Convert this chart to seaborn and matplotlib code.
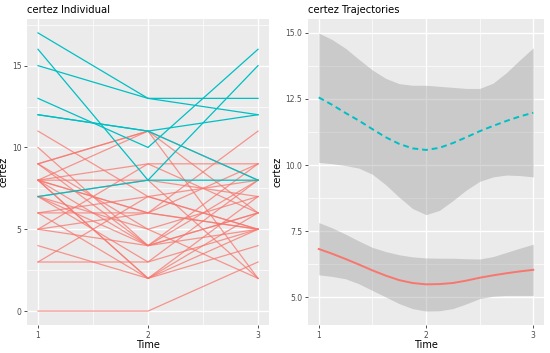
import numpy as np
import pandas as pd
import matplotlib
matplotlib.use("Agg")
import matplotlib.pyplot as plt
import seaborn as sns

# individual trajectories: certez at Time 1, 2, 3
red_t1 = [11, 10, 9, 9, 9, 8, 8, 8, 8, 7, 7, 7, 6, 6, 6, 5, 5, 5, 4, 3, 3, 0, 8, 8, 8, 7, 9, 8]
red_t2 = [7, 4, 11, 11, 4, 11, 9, 2, 6, 4, 8, 5, 6, 7, 2, 9, 6, 4, 2, 7, 3, 0, 6, 2, 4, 3, 5, 8]
red_t3 = [5, 8, 2, 6, 9, 8, 9, 7, 5, 6, 2, 7, 9, 5, 4, 6, 5, 5, 6, 8, 5, 3, 11, 5, 6, 8, 2, 7]
cyan_t1 = [17, 16, 15, 13, 12, 12, 7]
cyan_t2 = [13, 8, 13, 10, 11, 11, 8]
cyan_t3 = [13, 15, 12, 16, 12, 8, 8]

# smoothed trajectories
traj_time = [1, 1.125, 1.25, 1.375, 1.5, 1.625, 1.75, 1.875, 2,
             2.125, 2.25, 2.375, 2.5, 2.625, 2.75, 2.875, 3]
cyan_fit = [12.56, 12.28, 11.97, 11.68, 11.36, 11.05, 10.8, 10.63, 10.57,
            10.65, 10.83, 11.05, 11.28, 11.48, 11.67, 11.84, 11.98]
cyan_hi = [15.0, 14.75, 14.42, 14.0, 13.6, 13.28, 13.08, 13.02, 13.02,
           12.98, 12.94, 12.9, 12.9, 13.1, 13.5, 13.98, 14.44]
cyan_lo = [10.1, 10.05, 9.98, 9.88, 9.65, 9.25, 8.78, 8.35, 8.12,
           8.28, 8.65, 9.05, 9.38, 9.55, 9.62, 9.6, 9.55]
red_fit = [6.82, 6.64, 6.44, 6.23, 6.01, 5.81, 5.64, 5.53, 5.48,
           5.49, 5.53, 5.62, 5.73, 5.82, 5.9, 5.97, 6.03]
red_hi = [7.82, 7.62, 7.38, 7.12, 6.88, 6.72, 6.6, 6.52, 6.48,
          6.47, 6.47, 6.45, 6.44, 6.53, 6.69, 6.85, 7.0]
red_lo = [5.84, 5.78, 5.69, 5.5, 5.25, 5.0, 4.75, 4.56, 4.47,
          4.48, 4.56, 4.74, 4.94, 5.03, 5.06, 5.06, 5.06]

RED = "#F8766D"
CYAN = "#00BFC4"


def long_df(t1, t2, t3, group, start):
    rows = []
    for i, vals in enumerate(zip(t1, t2, t3)):
        for t, v in zip([1, 2, 3], vals):
            rows.append({"id": start + i, "Time": t, "certez": v, "group": group})
    return rows


ind = pd.DataFrame(long_df(red_t1, red_t2, red_t3, "1", 0) +
                   long_df(cyan_t1, cyan_t2, cyan_t3, "2", 100))

traj = pd.DataFrame({
    "Time": traj_time * 2,
    "certez": red_fit + cyan_fit,
    "group": ["1"] * len(traj_time) + ["2"] * len(traj_time),
})


def gg_axes(ax, yticks, yminor, ylab_x):
    ax.set_facecolor("#EBEBEB")
    for s in ax.spines.values():
        s.set_visible(False)
    ax.set_xticks([1, 2, 3])
    ax.set_xticks([1.5, 2.5], minor=True)
    ax.set_yticks(yticks)
    ax.set_yticks(yminor, minor=True)
    ax.grid(which="major", color="white", linewidth=1.0)
    ax.grid(which="minor", color="white", linewidth=0.5)
    ax.set_axisbelow(True)
    ax.tick_params(which="major", length=2.5, width=0.6, color="#333333",
                   labelsize=5.5, labelcolor="#4D4D4D", pad=1.5)
    ax.tick_params(which="minor", length=0)
    ax.set_xlim(0.9, 3.1)
    ax.set_xlabel("Time", fontsize=7)
    ax.set_ylabel("certez", fontsize=7)
    ax.xaxis.set_label_coords(0.5, -0.05)
    ax.yaxis.set_label_coords(ylab_x, 0.5)


fig = plt.figure(figsize=(5.5, 3.53), dpi=100)
ax1 = fig.add_axes([27 / 550, 1 - 325 / 353, 242 / 550, 306 / 353])
ax2 = fig.add_axes([308 / 550, 1 - 325 / 353, 236 / 550, 306 / 353])

sns.lineplot(data=ind[ind["group"] == "1"], x="Time", y="certez", units="id",
             estimator=None, color=RED, alpha=0.75, linewidth=0.9, ax=ax1)
sns.lineplot(data=ind[ind["group"] == "2"], x="Time", y="certez", units="id",
             estimator=None, color=CYAN, linewidth=0.9, ax=ax1)
gg_axes(ax1, [0, 5, 10, 15], [2.5, 7.5, 12.5, 17.5], -0.075)
ax1.set_ylim(-0.85, 17.85)
ax1.set_yticklabels(["0", "5", "10", "15"])
ax1.set_title("certez Individual", loc="left", fontsize=7.2, pad=4)

ax2.fill_between(traj_time, red_lo, red_hi, color="#999999", alpha=0.4, linewidth=0)
ax2.fill_between(traj_time, cyan_lo, cyan_hi, color="#999999", alpha=0.4, linewidth=0)
sns.lineplot(data=traj[traj["group"] == "1"], x="Time", y="certez",
             color=RED, linewidth=1.4, ax=ax2)
sns.lineplot(data=traj[traj["group"] == "2"], x="Time", y="certez",
             color=CYAN, linewidth=1.4, linestyle=(0, (3, 2)), ax=ax2)
gg_axes(ax2, [5, 7.5, 10, 12.5, 15], [6.25, 8.75, 11.25, 13.75], -0.11)
ax2.set_ylim(3.94, 15.53)
ax2.set_yticklabels(["5.0", "7.5", "10.0", "12.5", "15.0"])
ax2.set_title("certez Trajectories", loc="left", fontsize=7.2, pad=4)

fig.savefig("out.png", dpi=100)
